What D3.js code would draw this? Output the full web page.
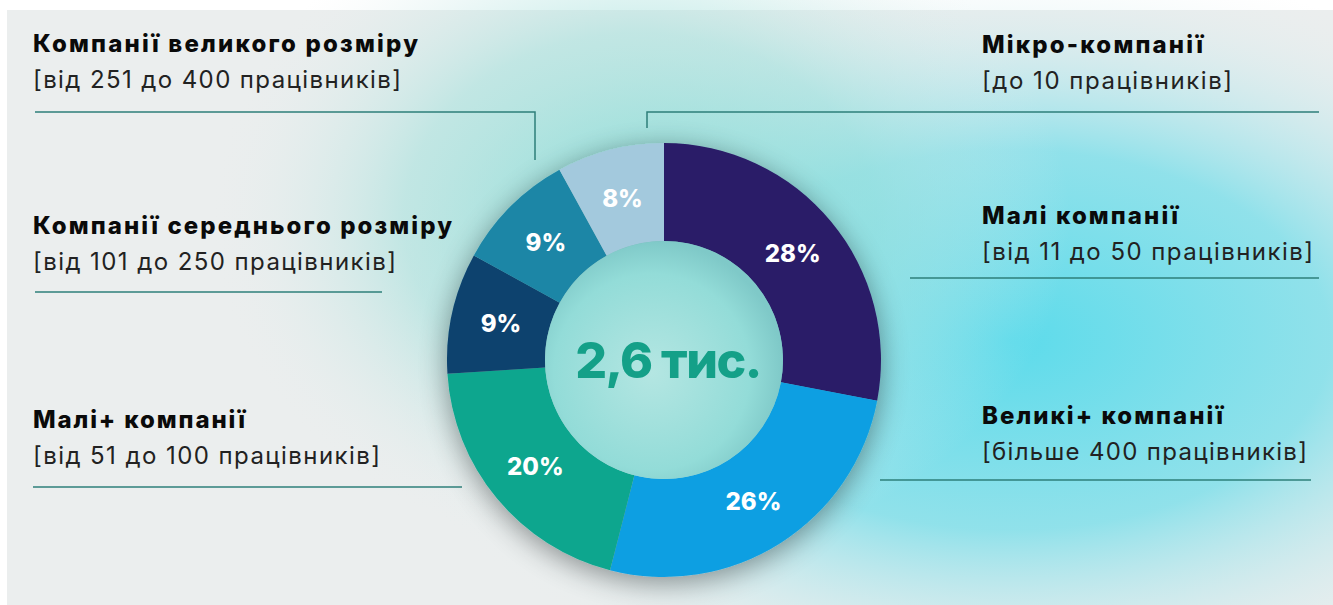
<!DOCTYPE html>
<html>
<head>
<meta charset="utf-8">
<script src="https://cdn.jsdelivr.net/npm/d3@7"></script>
<style>
  html, body { margin: 0; padding: 0; background: #fff; }
  svg { display: block; }
</style>
</head>
<body>
<div id="chart"></div>
<script>
// slice data, clockwise from 12 o'clock
var sliceValues = [28, 26, 20, 9, 9, 8];
var sliceLabels = ["28%", "26%", "20%", "9%", "9%", "8%"];
var sliceColors = ["#2a1e68", "#0a9fe2", "#10a68e", "#0b436e", "#1f86a6", "#a3c9dd"];

var totalLabel = "2,6 тис.";

// legend blocks
var leftTitles = ["Компанії великого розміру", "Компанії середнього розміру", "Малі+ компанії"];
var leftSubs = ["[від 251 до 400 працівників]", "[від 101 до 250 працівників]", "[від 51 до 100 працівників]"];
var rightTitles = ["Мікро-компанії", "Малі компанії", "Великі+ компанії"];
var rightSubs = ["[до 10 працівників]", "[від 11 до 50 працівників]", "[більше 400 працівників]"];

var width = 1333, height = 605;
var cx = 664, cy = 360;
var outerR = 217, innerR = 119;

var svg = d3.select("#chart").append("svg")
  .attr("width", width)
  .attr("height", height);

var defs = svg.append("defs");

// background glows
function glow(id, stops) {
  var g = defs.append("radialGradient").attr("id", id)
    .attr("cx", 0.5).attr("cy", 0.5).attr("r", 0.5);
  stops.forEach(function(s) {
    g.append("stop").attr("offset", s[0]).attr("stop-color", s[1]).attr("stop-opacity", s[2]);
  });
}
glow("glowRight", [["0%", "#5cdbeb", 1], ["50%", "#72dde9", 0.75], ["100%", "#e9eeee", 0]]);
glow("glowTop", [["0%", "#86dcd6", 0.9], ["55%", "#9fe0db", 0.55], ["100%", "#e9eeee", 0]]);

var hole = defs.append("radialGradient").attr("id", "hole")
  .attr("cx", 0.45).attr("cy", 0.55).attr("r", 0.55);
hole.append("stop").attr("offset", "0%").attr("stop-color", "#b4e6e2");
hole.append("stop").attr("offset", "75%").attr("stop-color", "#93dcd8");
hole.append("stop").attr("offset", "100%").attr("stop-color", "#7fc9c8");

var shadow = defs.append("filter").attr("id", "shadow")
  .attr("x", "-30%").attr("y", "-30%").attr("width", "160%").attr("height", "160%");
shadow.append("feGaussianBlur").attr("in", "SourceAlpha").attr("stdDeviation", 14);
shadow.append("feOffset").attr("dx", 0).attr("dy", 6).attr("result", "b");
shadow.append("feComponentTransfer").append("feFuncA").attr("type", "linear").attr("slope", 0.4);
var merge = shadow.append("feMerge");
merge.append("feMergeNode");
merge.append("feMergeNode").attr("in", "SourceGraphic");

// backdrop
svg.append("rect").attr("x", 7).attr("y", 10)
  .attr("width", width - 7).attr("height", height - 10)
  .attr("fill", "#ebeeee");

var bg = svg.append("g");
bg.append("ellipse").attr("cx", 1010).attr("cy", 340).attr("rx", 640).attr("ry", 380)
  .attr("fill", "url(#glowRight)");
bg.append("ellipse").attr("cx", 640).attr("cy", 220).attr("rx", 430).attr("ry", 340)
  .attr("fill", "url(#glowTop)");

// donut
var pie = d3.pie().sort(null).value(function(d) { return d; });
var arc = d3.arc().innerRadius(innerR).outerRadius(outerR);
var labelArc = d3.arc().innerRadius(167).outerRadius(167);

var donut = svg.append("g").attr("transform", "translate(" + cx + "," + cy + ")");

var ring = donut.append("g").attr("filter", "url(#shadow)");
ring.selectAll("path")
  .data(pie(sliceValues))
  .enter().append("path")
  .attr("d", arc)
  .attr("fill", function(d, i) { return sliceColors[i]; });

donut.append("circle").attr("r", innerR).attr("fill", "url(#hole)");

donut.selectAll(".pct")
  .data(pie(sliceValues))
  .enter().append("text")
  .attr("class", "pct")
  .attr("transform", function(d) { return "translate(" + labelArc.centroid(d) + ")"; })
  .attr("dy", "0.36em")
  .attr("text-anchor", "middle")
  .attr("font-family", "Inter, 'Noto Sans', sans-serif")
  .attr("font-weight", 800)
  .attr("font-size", 24)
  .attr("fill", "#ffffff")
  .text(function(d, i) { return sliceLabels[i]; });

donut.append("text")
  .attr("x", 4).attr("y", 18)
  .attr("text-anchor", "middle")
  .attr("font-family", "Inter, 'Noto Sans', sans-serif")
  .attr("font-weight", 800)
  .attr("font-size", 50)
  .attr("letter-spacing", -1.5)
  .attr("fill", "#14a088")
  .text(totalLabel);

// legend text (widths)
var leftY = [52, 234, 428];
var rightY = [53, 224, 424];
var leftTitleW = [385, 419, 212];
var leftSubW = [368, 363, 347];
var rightTitleW = [221, 196, 241];
var rightSubW = [250, 331, 325];
var subGap = 36;

function legend(titles, subs, ys, tw, sw, x) {
  var g = svg.append("g");
  titles.forEach(function(t, i) {
    g.append("text")
      .attr("x", x).attr("y", ys[i])
      .attr("font-family", "Inter, 'Noto Sans', sans-serif")
      .attr("font-weight", 800)
      .attr("font-size", 24)
      .attr("textLength", tw[i])
      .attr("lengthAdjust", "spacing")
      .attr("fill", "#0a0a0a")
      .text(t);
    g.append("text")
      .attr("x", x).attr("y", ys[i] + subGap)
      .attr("font-family", "Inter, 'Noto Sans', sans-serif")
      .attr("font-weight", 400)
      .attr("font-size", 24)
      .attr("textLength", sw[i])
      .attr("lengthAdjust", "spacing")
      .attr("fill", "#222")
      .text(subs[i]);
  });
}
legend(leftTitles, leftSubs, leftY, leftTitleW, leftSubW, 33);
legend(rightTitles, rightSubs, rightY, rightTitleW, rightSubW, 982);

// rule lines
var rules = [
  [[35, 112], [535, 112], [535, 160]],
  [[35, 292], [382, 292]],
  [[33, 487], [462, 487]],
  [[1319, 112], [647, 112], [647, 128]],
  [[910, 278], [1319, 278]],
  [[880, 480], [1311, 480]]
];
svg.append("g").selectAll("path")
  .data(rules)
  .enter().append("path")
  .attr("d", d3.line())
  .attr("fill", "none")
  .attr("stroke", "#2e7f7a")
  .attr("stroke-width", 1.5);
</script>
</body>
</html>
